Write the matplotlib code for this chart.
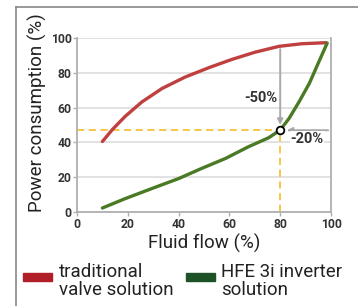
import matplotlib
matplotlib.use("Agg")
import matplotlib.pyplot as plt
from matplotlib.patches import Rectangle
from matplotlib.lines import Line2D

plt.rcParams['font.family'] = ['Roboto', 'DejaVu Sans']

flow_trad = [10, 14, 19, 25.5, 33.5, 42.5, 52, 61, 70, 79.5, 88.5, 98]
power_trad = [40.5, 47.5, 55, 63.2, 71, 77.5, 83, 87.7, 91.8, 95.2, 96.7, 97.3]
flow_hfe = [10, 19, 29.5, 40, 49, 58.5, 67.5, 75.5, 80, 83.5, 87.5, 91.5, 95, 98.5]
power_hfe = [2.3, 7.7, 13.5, 19.2, 25, 30.8, 37.5, 42.7, 47.1, 53.8, 63.5, 74, 85.6, 97.1]
op_flow = 80
op_power = 47
top_trad = 95.2
xticks = [0, 20, 40, 60, 80, 100]
yticks = [0, 20, 40, 60, 80, 100]
legend_labels = ["traditional\nvalve solution", "HFE 3i inverter\nsolution"]

red = "#c0403f"
green = "#4a7a24"
yellow = "#f7c23a"
gray = "#a8a8a8"

fig = plt.figure(figsize=(3.58, 3.06), dpi=100)
# outer frame
fig.add_artist(Line2D([16/358, 16/358], [0, 1-7/306], transform=fig.transFigure, color="#888888", lw=1.2))
fig.add_artist(Line2D([16/358, 1], [1-7/306, 1-7/306], transform=fig.transFigure, color="#888888", lw=1.2))

ax = fig.add_axes([77/358, 1-212/306, (331-77)/358, (212-38)/306])
ax.set_xlim(0, 100)
ax.set_ylim(0, 100)
for s in ['left', 'bottom', 'right']:
    ax.spines[s].set_color("#b0b0b0")
    ax.spines[s].set_linewidth(1.3)
ax.spines['top'].set_visible(False)
ax.set_yticks(yticks)
ax.set_xticks(xticks)
ax.grid(axis='y', color="#e2e2e2", lw=1.4)
ax.set_axisbelow(True)
ax.tick_params(axis='both', colors="#b0b0b0", labelcolor="#333333", labelsize=8.7, length=3, width=1)
ax.tick_params(axis='y', pad=1)
ax.tick_params(axis='x', pad=1)
for lbl in ax.get_xticklabels() + ax.get_yticklabels():
    lbl.set_fontweight('bold')

ax.plot([0, op_flow], [op_power, op_power], color=yellow, lw=1.3, ls=(0, (4, 2.5)), zorder=2)
ax.plot([op_flow, op_flow], [0, op_power], color=yellow, lw=1.3, ls=(0, (4, 2.5)), zorder=2)

ax.plot(flow_trad, power_trad, color=red, lw=2.4, solid_capstyle='round', zorder=3)
ax.plot(flow_hfe, power_hfe, color=green, lw=2.4, solid_capstyle='round', zorder=3)

ax.annotate("", xy=(op_flow, op_power + 1.5), xytext=(op_flow, top_trad),
            arrowprops=dict(arrowstyle="-|>", color=gray, lw=1.4, mutation_scale=8), zorder=4)
ax.annotate("", xy=(op_flow + 1.5, op_power), xytext=(100, op_power),
            arrowprops=dict(arrowstyle="-|>", color=gray, lw=1.4, mutation_scale=8), zorder=4)
ax.plot([op_flow], [op_power], marker='o', ms=5.5, mfc='white', mec='black', mew=1.3, zorder=5)

ax.text(79, 65.5, "-50%", ha='right', va='center', fontsize=10.5, fontweight='bold', color="#333333", zorder=6)
ax.text(84, 42, "-20%", ha='left', va='center', fontsize=10.5, fontweight='bold', color="#333333", zorder=6,
        bbox=dict(facecolor='white', edgecolor='none', pad=0.5))

ax.set_xlabel("Fluid flow (%)", fontsize=13.5, color="#222222", labelpad=2)
ax.set_ylabel("Power consumption (%)", fontsize=13.5, color="#222222", va='center')
ax.yaxis.set_label_coords(-0.155, 0.57)

# legend
fig.add_artist(Rectangle((23/358, 1-281/306), 29/358, 8/306, transform=fig.transFigure, color="#b01f27"))
fig.add_artist(Rectangle((186/358, 1-281/306), 29/358, 8/306, transform=fig.transFigure, color="#1d5227"))
fig.text(59/358, 1-263/306, legend_labels[0], fontsize=13.5, color="#222222", va='top', ha='left', linespacing=1.0)
fig.text(221/358, 1-263/306, legend_labels[1], fontsize=13.5, color="#222222", va='top', ha='left', linespacing=1.0)

fig.savefig("out.png", dpi=100)
